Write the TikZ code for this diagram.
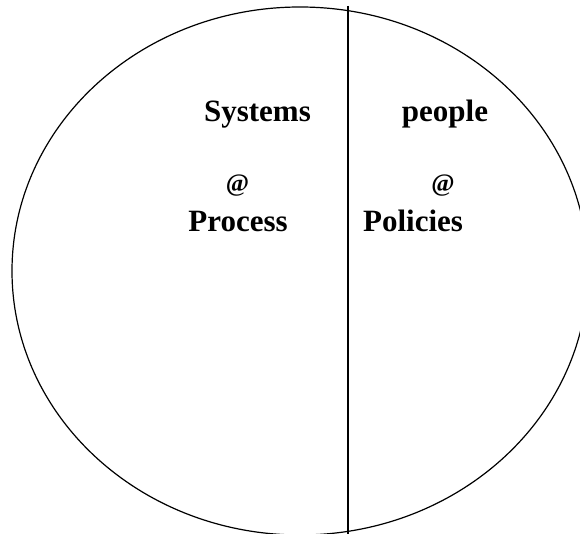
\documentclass[tikz,border=0pt]{standalone}
\usepackage{fontspec}
\setmainfont{Liberation Serif}
\begin{document}
\begin{tikzpicture}[x=1pt,y=-1pt,
  label text/.style={font=\fontsize{31}{36}\selectfont\bfseries, inner sep=0pt, anchor=base},
  at text/.style={font=\fontsize{25}{30}\selectfont\bfseries, inner sep=0pt, anchor=base},
  outline/.style={draw=black, line width=1.2pt}]
  \useasboundingbox (0,0) rectangle (580,534);
  % outer ellipse, partly clipped at the right and bottom
  \draw[outline] (300,271) ellipse [x radius=288, y radius=264];
  % dividing line
  \coordinate (top) at (348,6);
  \coordinate (bottom) at (348,534);
  \draw[outline] (top) -- (bottom);
  % left half
  \node[label text] (systems) at (257.5,122) {Systems};
  \node[at text] (atleft) at (237.5,191.5) {@};
  \node[label text] (process) at (238,231.5) {Process};
  % right half
  \node[label text] (people) at (445,122) {people};
  \node[at text] (atright) at (443,191.5) {@};
  \node[label text] (policies) at (413,231.5) {Policies};
\end{tikzpicture}
\end{document}
